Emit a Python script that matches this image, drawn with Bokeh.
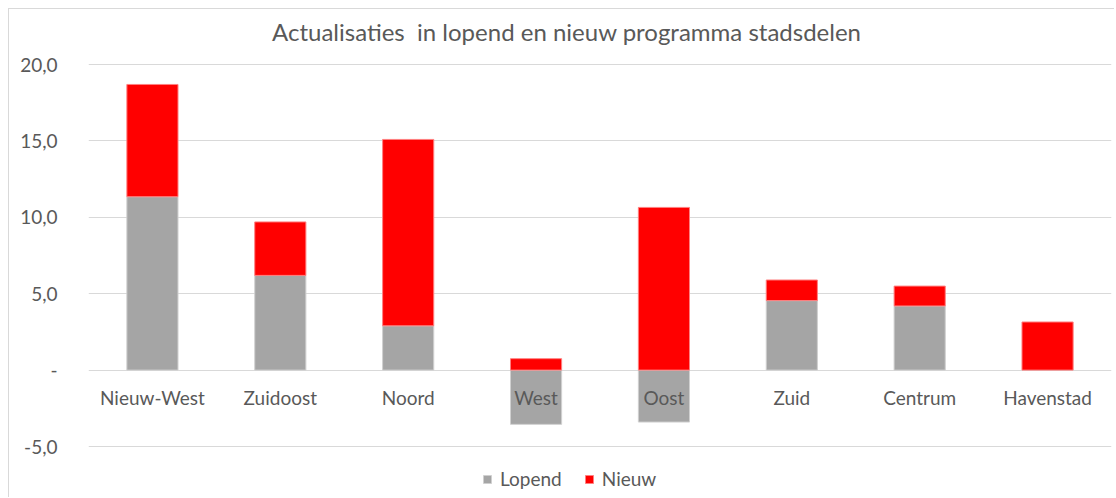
from bokeh.plotting import figure
from bokeh.models import ColumnDataSource, FixedTicker, Legend, LegendItem, Label
from bokeh.core.properties import value
from bokeh.embed import file_html
from bokeh.resources import INLINE

categories = ["Nieuw-West", "Zuidoost", "Noord", "West", "Oost", "Zuid", "Centrum", "Havenstad"]
lopend = [11.35, 6.2, 2.9, -3.55, -3.4, 4.55, 4.2, 0.0]
nieuw = [7.35, 3.5, 12.2, 0.75, 10.65, 1.35, 1.3, 3.15]
y_ticks = [-5, 0, 5, 10, 15, 20]
y_tick_labels = ["-5,0", "-", "5,0", "10,0", "15,0", "20,0"]
title_text = "Actualisaties\u00a0 in lopend en nieuw programma stadsdelen"

FONT = "Lato"
TXT = "#595959"
GRAY = "#a5a5a5"
RED = "#ff0000"

l_bottom = [min(0, v) for v in lopend]
l_top = [max(0, v) for v in lopend]
n_bottom = [max(0, l) for l in lopend]
n_top = [max(0, l) + n for l, n in zip(lopend, nieuw)]

src = ColumnDataSource(dict(cat=categories, lb=l_bottom, lt=l_top, nb=n_bottom, nt=n_top,
                            zero=[0] * len(categories)))

p = figure(x_range=categories, y_range=(-7.88, 23.54), width=1106, height=489,
           output_backend="svg", toolbar_location=None,
           min_border_left=79, min_border_right=4, min_border_top=1, min_border_bottom=8,
           styles={"margin-left": "8px", "margin-top": "8px",
                   "border-left": "1px solid #d9d9d9", "border-top": "1px solid #d9d9d9"})
p.outline_line_color = None
p.background_fill_color = "white"
p.border_fill_color = "white"

r1 = p.vbar(x="cat", bottom="lb", top="lt", width=0.4, source=src,
            fill_color=GRAY, line_color="#d0d0d0", line_width=1)
r2 = p.vbar(x="cat", bottom="nb", top="nt", width=0.4, source=src,
            fill_color=RED, line_color="#ff8080", line_width=1)

p.text(x="cat", y="zero", text="cat", source=src, text_align="center",
       text_baseline="middle", y_offset=27, text_font=value(FONT),
       text_font_size="19px", text_color=TXT)

p.xaxis.visible = False
p.xgrid.grid_line_color = None
p.ygrid.grid_line_color = "#d9d9d9"
p.ygrid.grid_line_width = 1

ya = p.yaxis[0]
ya.ticker = FixedTicker(ticks=y_ticks)
ya.major_label_overrides = {t: s for t, s in zip(y_ticks, y_tick_labels)}
ya.axis_line_color = None
ya.major_tick_line_color = None
ya.minor_tick_line_color = None
ya.major_label_standoff = 25
ya.major_label_text_font = FONT
ya.major_label_text_font_size = "19px"
ya.major_label_text_color = TXT

p.add_layout(Label(x=3.74, y=22.16, text=title_text, text_align="center",
                   text_baseline="middle", text_font=FONT, text_font_size="24px",
                   text_color=TXT))

legend = Legend(items=[LegendItem(label="Lopend", renderers=[r1]),
                       LegendItem(label="Nieuw", renderers=[r2])],
                orientation="horizontal", location=(394, 0),
                glyph_width=10, glyph_height=10, label_text_font=FONT,
                label_text_font_size="19px", label_text_color=TXT,
                border_line_color=None, background_fill_alpha=0,
                spacing=22, label_standoff=8, padding=0, margin=0)
p.add_layout(legend)

open("out.html", "w").write(file_html(p, INLINE))
